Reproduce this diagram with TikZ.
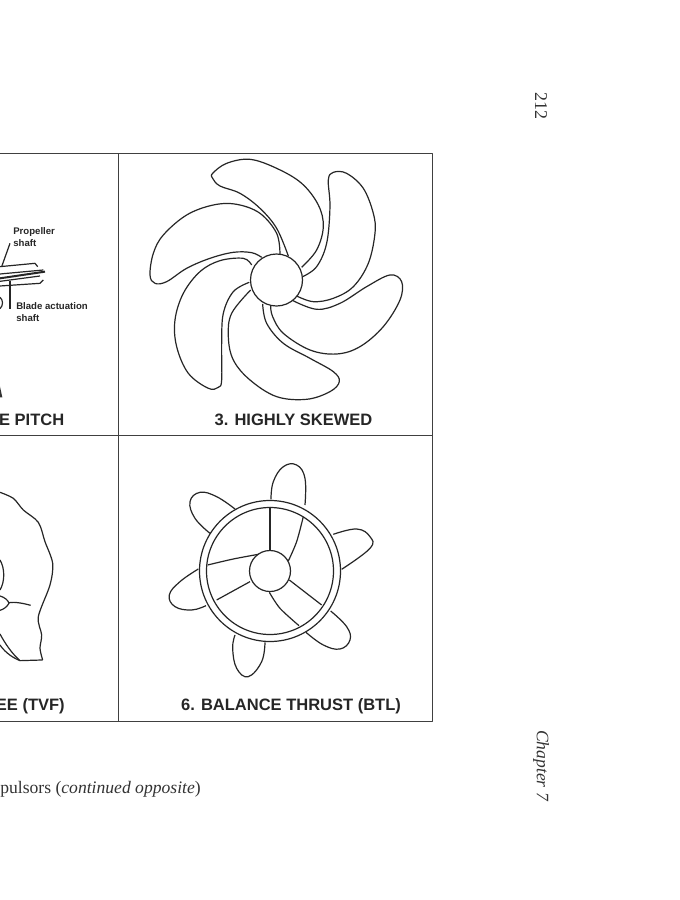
\documentclass[tikz,border=0pt]{standalone}
\usepackage{fontspec}
\setmainfont{Liberation Serif}
\setsansfont{Liberation Sans}
\usetikzlibrary{calc}

\begin{document}
\begin{tikzpicture}[x=1pt,y=-1pt,line join=round,semithick]
        \tikzstyle{frameline}=[draw=black!75,line width=1pt]
        \tikzstyle{outline}=[draw=black!85,line width=1.2pt]
        \tikzstyle{panel title}=[font=\sffamily\bfseries\fontsize{16.5}{18}\selectfont,text=black!85,inner sep=0pt]
        \tikzstyle{small label}=[font=\sffamily\bfseries\fontsize{9.6}{11.5}\selectfont,text=black!85,align=left,anchor=north west,inner sep=0pt]

        \useasboundingbox[fill=white] (0,0) rectangle (680,900);

        % panels
        \draw[frameline] (0,153.5) -- (432,153.5) -- (432,721) -- (0,721);
        \draw[frameline] (118,153.5) -- (118,721);
        \draw[frameline] (0,435) -- (432,435);

        % panel 2, cut by the page edge
        \begin{scope}[shift={(0,150)},x=0.3333pt,y=-0.3333pt]
          \draw[outline] (0,350) -- (105,340) -- (113,350);
          \draw[outline] (0,408) -- (120,400) -- (130,390);
          \draw[outline,line width=2pt] (0,385) -- (135,365);
          \draw[outline] (0,372) -- (130,360);
          \draw[outline] (0,394) -- (120,378);
          \draw[outline] (5,350) -- (30,280);
          \draw[outline] (30,392) -- (30,478);
          \draw[outline] (0,442) .. controls (10,450) and (10,467) .. (0,476);
          \fill[black!80] (0,710) -- (7,742) -- (0,742) -- cycle;
        \end{scope}
        \node[small label] (propeller) at (13,227.5) {Propeller\\shaft};
        \node[small label] (actuation) at (16,302.5) {Blade actuation\\shaft};
        \node[panel title,anchor=east] (pitch) at (64.5,420) {E PITCH};

        % panel 3
        \begin{scope}[shift={(120,150)},x=0.3333pt,y=-0.3333pt]
          \draw[outline] plot[smooth,tension=0.6] coordinates {(545,352) (590,300) (610,230) (595,165) (545,100) (470,55) (390,28) (320,40) (278,70) (278,85) (300,108) (360,130) (420,175) (470,235) (505,318)};
          \draw[outline] plot[smooth,tension=0.6] coordinates {(480,312) (470,250) (420,190) (350,163) (280,165) (200,195) (130,255) (100,310) (90,375) (105,400) (140,395) (200,355) (270,325) (340,307) (395,308) (425,322)};
          \draw[outline] plot[smooth,tension=0.6] coordinates {(395,345) (370,325) (300,332) (240,365) (190,430) (165,510) (170,590) (205,670) (265,715) (295,712) (305,690) (305,580) (310,490) (340,425) (388,397)};
          \draw[outline] plot[smooth,tension=0.6] coordinates {(392,420) (335,490) (325,560) (340,630) (390,690) (470,740) (560,748) (630,725) (658,695) (640,665) (570,625) (490,580) (440,520) (428,462)};
          \draw[outline] plot[smooth,tension=0.6] coordinates {(452,468) (458,500) (490,550) (570,600) (650,612) (720,590) (790,530) (840,450) (845,395) (810,375) (740,410) (660,460) (590,478) (515,450)};
          \draw[outline] plot[smooth,tension=0.6] coordinates {(530,438) (580,455) (640,445) (700,410) (745,340) (765,250) (760,190) (730,115) (680,70) (640,67) (625,90) (630,170) (620,280) (590,350) (548,380)};
        \end{scope}
        \node[circle,outline,fill=white,minimum size=52pt,inner sep=0pt] (hubC) at (276.5,280) {};
        \node[panel title] (skewed) at (293.5,420) {3. HIGHLY SKEWED};

        % panel 5, cut by the page edge
        \begin{scope}[shift={(0,435)},x=0.3333pt,y=-0.3333pt]
          \draw[outline] plot[smooth,tension=0.5] coordinates {(0,172) (40,190) (70,225) (115,262) (135,320) (158,385) (150,450) (115,545) (125,600) (120,640) (128,675)};
          \draw[outline] (128,675) -- (60,677);
          \draw[outline] (60,677) .. controls (35,655) and (15,625) .. (0,597);
          \draw[outline] (60,677) .. controls (30,665) and (10,645) .. (0,630);
          \draw[outline] (0,375) .. controls (15,400) and (15,440) .. (0,465);
          \draw[outline] (0,483) .. controls (15,487) and (25,497) .. (27,505) .. controls (20,517) and (10,523) .. (0,526);
          \draw[outline] (27,503) .. controls (45,500) and (70,505) .. (92,511);
        \end{scope}
        \node[panel title,anchor=east] (tvf) at (65,706) {EE (TVF)};

        % panel 6
        \begin{scope}[shift={(120,435)},x=0.3333pt,y=-0.3333pt]
          \draw[outline] plot[smooth,tension=0.7] coordinates {(453,193) (460,140) (490,95) (530,90) (555,130) (555,210)};
          \draw[outline] plot[smooth,tension=0.7] coordinates {(345,222) (290,185) (240,172) (210,200) (225,250) (270,295)};
          \draw[outline] plot[smooth,tension=0.7] coordinates {(640,298) (710,282) (750,305) (750,340) (665,403)};
          \draw[outline] plot[smooth,tension=0.7] coordinates {(632,528) (680,575) (690,615) (660,642) (610,630) (558,592)};
          \draw[outline] plot[smooth,tension=0.7] coordinates {(435,622) (425,680) (385,725) (350,700) (338,640) (345,600)};
          \draw[outline] plot[smooth,tension=0.7] coordinates {(235,402) (180,440) (148,480) (165,515) (215,525) (258,512)};
          \draw[outline] (450,215) -- (450,347);
          \draw[outline] plot[smooth] coordinates {(550,245) (530,320) (505,378)};
          \draw[outline] plot[smooth] coordinates {(263,390) (340,372) (415,358)};
          \draw[outline] (290,495) -- (390,440);
          \draw[outline] (508,435) -- (605,510);
          \draw[outline] plot[smooth] coordinates {(448,472) (480,520) (537,572)};
        \end{scope}
        \node[circle,outline,minimum size=141pt,inner sep=0pt] (ringO) at (270,571) {};
        \node[circle,outline,minimum size=127pt,inner sep=0pt] (ringI) at (270,571) {};
        \node[circle,outline,minimum size=41pt,inner sep=0pt] (hubF) at (270,571) {};
        \node[panel title] (btl) at (291,706) {6. BALANCE THRUST (BTL)};

        % page text
        \node[anchor=west,inner sep=0pt,font=\fontsize{17.6}{19}\selectfont,text=black!80] (caption) at (0,789) {pulsors (\textit{continued opposite})};
        \node[rotate=-90,inner sep=0pt,font=\fontsize{18}{20}\selectfont,text=black!80] (page) at (541,105.5) {212};
        \node[rotate=-90,inner sep=0pt,font=\itshape\fontsize{17.5}{19}\selectfont,text=black!80] (chapter) at (541,765.5) {Chapter 7};
\end{tikzpicture}
\end{document}
